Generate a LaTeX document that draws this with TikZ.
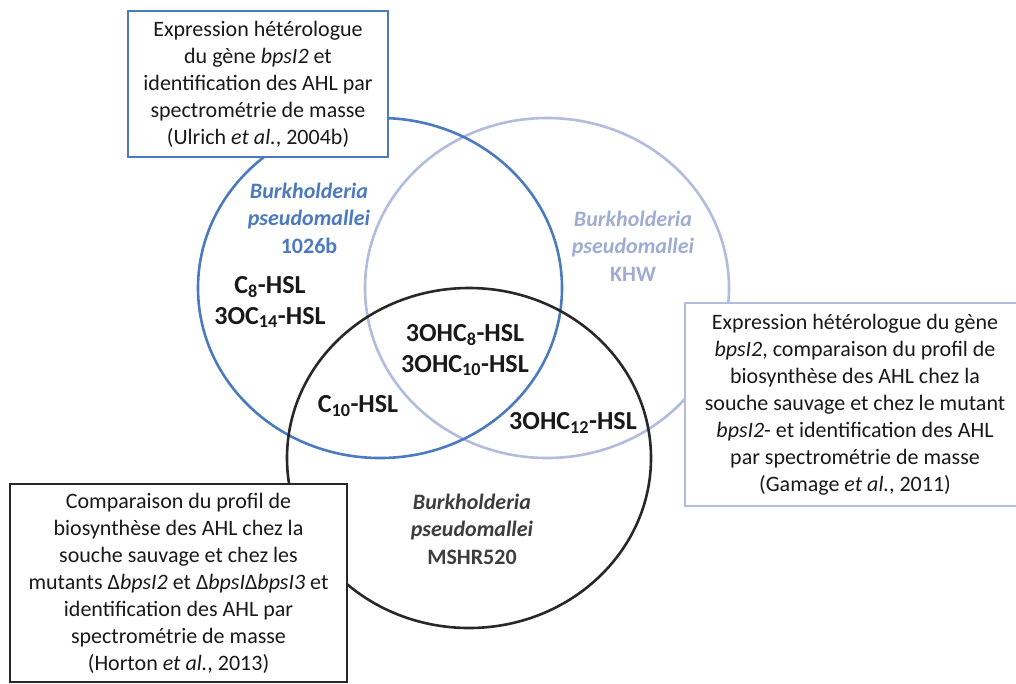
\documentclass[tikz,border=0pt]{standalone}
\usepackage{fontspec}
\setmainfont{Carlito}
\definecolor{cblue}{RGB}{76,122,190}
\definecolor{cgrey}{RGB}{178,188,220}
\definecolor{cgreytxt}{RGB}{160,172,210}
\definecolor{cdark}{RGB}{40,40,40}
\definecolor{txt}{RGB}{25,25,25}
\tikzset{
  ring/.style={line width=2.6pt},
  infobox/.style={draw, line width=1.8pt, fill=white, align=center, inner sep=0pt,
    text=txt, font=\fontsize{22}{27}\selectfont},
  cmp/.style={align=center, text=txt, font=\bfseries\fontsize{26}{31}\selectfont},
  species/.style={align=center, font=\bfseries\fontsize{22}{27.5}\selectfont},
}
\begin{document}
\begin{tikzpicture}[x=1pt,y=-1pt]
\useasboundingbox (0,0) rectangle (1016,683);
\fill[white] (0,0) rectangle (1016,683);
\clip (0,0) rectangle (1016,683);
% circles
\draw[ring, cgrey] (547,288) ellipse [x radius=182pt, y radius=170pt];
\draw[ring, cblue] (380,288) ellipse [x radius=182pt, y radius=170pt];
\draw[ring, cdark] (469,458) ellipse [x radius=182pt, y radius=170pt];
% boxes
\node[infobox, draw=cblue, minimum width=260pt, minimum height=146pt] (ulrich) at (258,84)
  {Expression hétérologue\\du gène \textit{bpsI2} et\\identification des AHL par\\spectrométrie de masse\\(Ulrich \textit{et al.}, 2004b)};
\node[infobox, draw=cgrey, minimum width=340pt, minimum height=203pt] (gamage) at (855,404.5)
  {Expression hétérologue du gène\\\textit{bpsI2}, comparaison du profil de\\biosynthèse des AHL chez la\\souche sauvage et chez le mutant\\\textit{bpsI2}- et identification des AHL\\par spectrométrie de masse\\(Gamage \textit{et al.}, 2011)};
\node[infobox, draw=cdark, minimum width=337pt, minimum height=198pt] (horton) at (178.5,583)
  {Comparaison du profil de\\biosynthèse des AHL chez la\\souche sauvage et chez les\\mutants Δ\textit{bpsI2} et Δ\textit{bpsI}Δ\textit{bpsI3} et\\identification des AHL par\\spectrométrie de masse\\(Horton \textit{et al.}, 2013)};
% species labels
\node[species, text=cblue] (sp1026b) at (309,218) {\textit{Burkholderia}\\\textit{pseudomallei}\\1026b};
\node[species, text=cgreytxt] (spkhw) at (633,246) {\textit{Burkholderia}\\\textit{pseudomallei}\\KHW};
\node[species, text=cdark!90] (spmshr) at (472,529) {\textit{Burkholderia}\\\textit{pseudomallei}\\MSHR520};
% compounds
\node[cmp] (c1) at (270,302) {C\textsubscript{8}-HSL\\3OC\textsubscript{14}-HSL};
\node[cmp] (c2) at (465,350) {3OHC\textsubscript{8}-HSL\\3OHC\textsubscript{10}-HSL};
\node[cmp] (c3) at (358,406) {C\textsubscript{10}-HSL};
\node[cmp] (c4) at (573,423) {3OHC\textsubscript{12}-HSL};
\end{tikzpicture}
\end{document}
